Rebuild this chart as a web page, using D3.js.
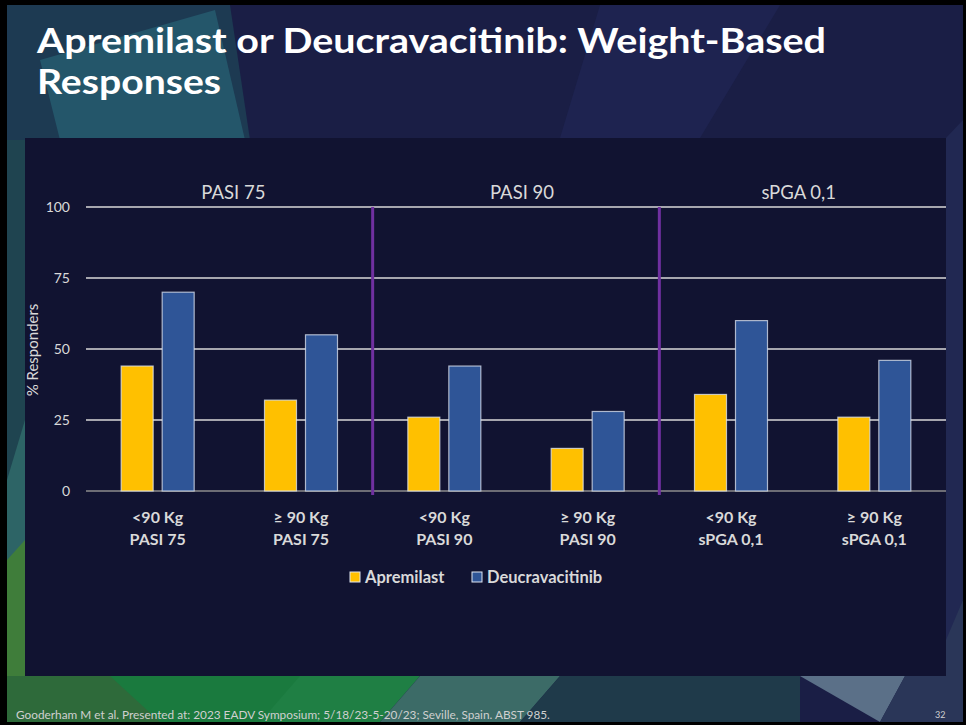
<!DOCTYPE html>
<html>
<head>
<meta charset="utf-8">
<script src="https://cdn.jsdelivr.net/npm/d3@7"></script>
<style>
  body { margin: 0; background: #000; }
  svg { display: block; font-family: Lato, "Open Sans", sans-serif; }
</style>
</head>
<body>
<svg id="slide" width="966" height="725"></svg>
<script>
// data
const groups = ["<90 Kg|PASI 75", "≥ 90 Kg|PASI 75", "<90 Kg|PASI 90", "≥ 90 Kg|PASI 90", "<90 Kg|sPGA 0,1", "≥ 90 Kg|sPGA 0,1"];
const series = ["Apremilast", "Deucravacitinib"];
const apremilast = [44, 32, 26, 15, 34, 26];
const deucravacitinib = [70, 55, 44, 28, 60, 46];
const sections = ["PASI 75", "PASI 90", "sPGA 0,1"];
const yTicks = [0, 25, 50, 75, 100];

const colours = { Apremilast: "#ffc000", Deucravacitinib: "#2f5597" };

const svg = d3.select("#slide");

// slide background, a few flat polygons to hint at the template
const bg = svg.append("g");
bg.append("rect").attr("x", 7).attr("y", 5).attr("width", 956).attr("height", 717).attr("fill", "#1a1e45");
const shapes = [
  { p: [[7, 5], [230, 5], [250, 140], [120, 260], [7, 330]], c: "#1d3a52" },
  { p: [[40, 60], [215, 10], [245, 140], [60, 140]], c: "#24566a" },
  { p: [[7, 140], [25, 140], [25, 480], [7, 560]], c: "#1f4450" },
  { p: [[7, 480], [25, 420], [25, 600], [7, 610]], c: "#2d6466" },
  { p: [[7, 560], [25, 540], [25, 722], [7, 722]], c: "#3f7d3a" },
  { p: [[7, 676], [300, 676], [260, 722], [7, 722]], c: "#2e6a3a" },
  { p: [[110, 676], [330, 676], [300, 722], [160, 722]], c: "#1a7a3e" },
  { p: [[300, 676], [420, 676], [380, 722], [260, 722]], c: "#1f7f44" },
  { p: [[420, 676], [560, 676], [520, 722], [380, 722]], c: "#3c6b67" },
  { p: [[560, 676], [800, 676], [800, 722], [520, 722]], c: "#1f3a4a" },
  { p: [[800, 676], [905, 676], [880, 722]], c: "#5b7088" },
  { p: [[905, 676], [963, 600], [963, 722], [880, 722]], c: "#2a3658" },
  { p: [[946, 138], [963, 120], [963, 600], [946, 640]], c: "#212852" },
  { p: [[600, 5], [780, 5], [700, 138], [560, 138]], c: "#1e2350" }
];
bg.selectAll("polygon").data(shapes).join("polygon")
  .attr("points", (d) => d.p.map((q) => q.join(",")).join(" "))
  .attr("fill", (d) => d.c);

// title
const title = svg.append("text").attr("x", 37).attr("fill", "#fff")
  .style("font-weight", 700).style("font-size", "34px");
title.append("tspan").attr("x", 37).attr("y", 53)
  .attr("textLength", 789).attr("lengthAdjust", "spacingAndGlyphs")
  .text("Apremilast or Deucravacitinib: Weight-Based");
title.append("tspan").attr("x", 37).attr("y", 94)
  .attr("textLength", 184).attr("lengthAdjust", "spacingAndGlyphs")
  .text("Responses");

// chart panel
svg.append("rect").attr("x", 25).attr("y", 138).attr("width", 921).attr("height", 538).attr("fill", "#111331");

const x0 = d3.scaleBand().domain(groups).range([86, 946]);
const x1 = d3.scaleBand().domain(series)
  .range([x0.bandwidth() / 2 - 36.5, x0.bandwidth() / 2 + 36.5])
  .paddingInner(9 / 41);
const y = d3.scaleLinear().domain([0, 100]).range([491, 207]);

// grid lines
svg.append("g").selectAll("line").data(yTicks).join("line")
  .attr("x1", 86).attr("x2", 946)
  .attr("y1", (d) => y(d)).attr("y2", (d) => y(d))
  .attr("stroke", (d) => (d === 0 ? "#8c8c8c" : "#d9d9d9"))
  .attr("stroke-width", 1.3);

// y axis labels
const yAxis = svg.append("g").attr("transform", "translate(86,0)")
  .call(d3.axisLeft(y).tickValues(yTicks).tickSize(0).tickPadding(16));
yAxis.select(".domain").remove();
yAxis.selectAll("text").attr("fill", "#d9d9d9").style("font-size", "14px").style("font-family", "Lato, sans-serif");

svg.append("text")
  .attr("transform", "translate(38,350) rotate(-90)")
  .attr("text-anchor", "middle").attr("fill", "#d9d9d9")
  .style("font-size", "15px").text("% Responders");

// bars
const rows = groups.map((g, i) => ({ group: g, values: [apremilast[i], deucravacitinib[i]] }));
svg.append("g").selectAll("g").data(rows).join("g")
  .attr("transform", (d) => `translate(${x0(d.group)},0)`)
  .selectAll("rect")
  .data((d) => series.map((s, j) => ({ s, v: d.values[j] })))
  .join("rect")
  .attr("x", (d) => x1(d.s))
  .attr("width", x1.bandwidth())
  .attr("y", (d) => y(d.v))
  .attr("height", (d) => y(0) - y(d.v))
  .attr("fill", (d) => colours[d.s])
  .attr("stroke", "#dfe6f2").attr("stroke-opacity", 0.75).attr("stroke-width", 1.2);

// section dividers
const dividers = [groups[2], groups[4]];
svg.append("g").selectAll("line").data(dividers).join("line")
  .attr("x1", (d) => x0(d)).attr("x2", (d) => x0(d))
  .attr("y1", y(100)).attr("y2", y(0) + 4)
  .attr("stroke", "#7030a0").attr("stroke-width", 3);

// section headers
svg.append("g").selectAll("text").data(sections).join("text")
  .attr("x", (d, i) => x0(groups[i * 2]) + x0.bandwidth() + [4, 6, -4][i])
  .attr("y", 199)
  .attr("text-anchor", "middle").attr("fill", "#d9d9d9")
  .style("font-size", "18.5px").text((d) => d);

// category labels
const cat = svg.append("g").selectAll("text").data(groups).join("text")
  .attr("text-anchor", "middle").attr("fill", "#d9d9d9")
  .style("font-size", "16px").style("font-weight", 700);
cat.each(function (d) {
  const parts = d.split("|");
  const cx = x0(d) + x0.bandwidth() / 2;
  d3.select(this).append("tspan").attr("x", cx).attr("y", 523).text(parts[0]);
  d3.select(this).append("tspan").attr("x", cx).attr("y", 545).text(parts[1]);
});

// legend
const legendX = [350, 472];
const legend = svg.append("g").selectAll("g").data(series).join("g")
  .attr("transform", (d, i) => `translate(${legendX[i]},572)`);
legend.append("rect").attr("width", 10).attr("height", 10)
  .attr("fill", (d) => colours[d]).attr("stroke", "#dfe6f2").attr("stroke-width", 1);
legend.append("text").attr("x", 15).attr("y", 11).attr("fill", "#d9d9d9")
  .style("font-size", "16.5px").style("font-weight", 700).text((d) => d);

// footer
svg.append("text").attr("x", 16).attr("y", 719).attr("fill", "#d0d0d0")
  .style("font-size", "11.8px")
  .text("Gooderham M et al. Presented at: 2023 EADV Symposium; 5/18/23-5-20/23;  Seville, Spain. ABST 985.");
svg.append("text").attr("x", 935).attr("y", 718).attr("fill", "#d0d0d0")
  .style("font-size", "9px").text("32");
</script>
</body>
</html>
